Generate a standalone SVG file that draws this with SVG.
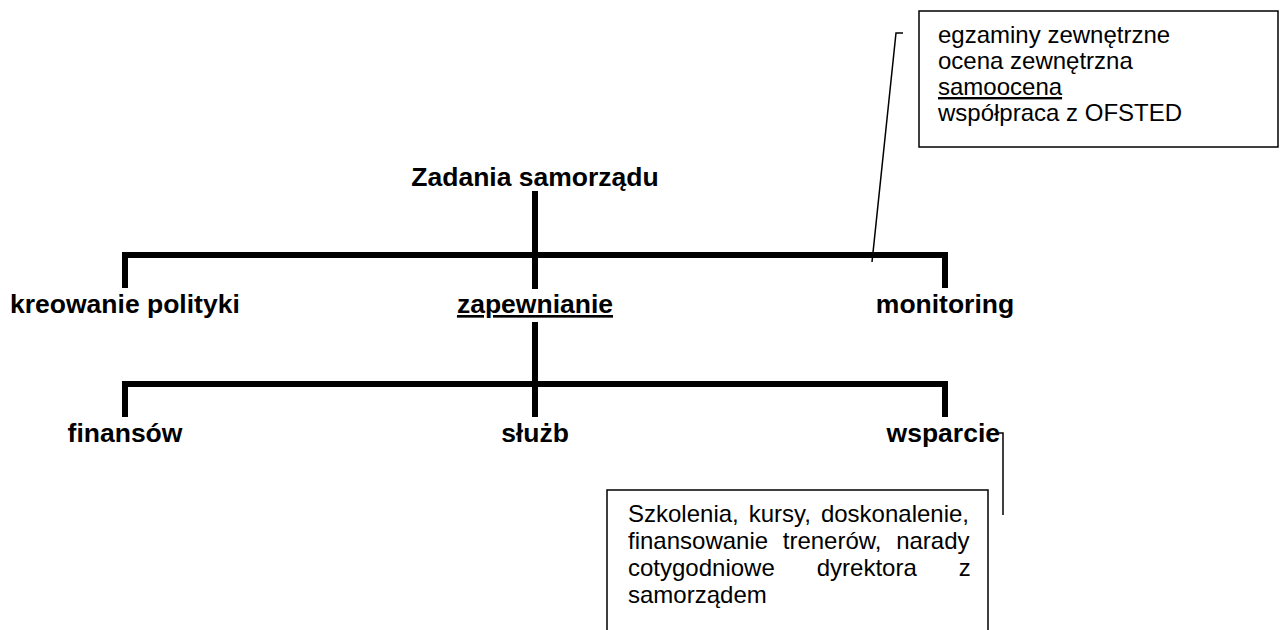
<svg xmlns="http://www.w3.org/2000/svg" width="1284" height="630" viewBox="0 0 1284 630">
<style>
.b{font-family:"Liberation Sans",Arial,sans-serif;font-weight:bold;font-size:26.5px;fill:#000}
.r{font-family:"Liberation Sans",Arial,sans-serif;font-size:24px;fill:#000}
.bar{stroke:#000;stroke-width:6;fill:none;stroke-linecap:square;stroke-linejoin:miter}
.thin{stroke:#000;stroke-width:1.5;fill:none}
.box{fill:#fff;stroke:#000;stroke-width:1.5}
</style>
<rect width="1284" height="630" fill="#fff"/>
<g id="connectors">
<path class="bar" d="M535,194 V286"/>
<path class="bar" d="M125,285 V255 H945 V285"/>
<path class="bar" d="M535,325 V414"/>
<path class="bar" d="M125,414 V384 H945 V414"/>
<path class="thin" d="M903,33 H896 L872,262"/>
<path class="thin" d="M998,433 H1003 V515"/>
</g>
<g id="root"><text class="b" x="535" y="186" text-anchor="middle">Zadania samorządu</text></g>
<g id="kreowanie"><text class="b" x="10" y="313">kreowanie polityki</text></g>
<g id="zapewnianie"><text class="b" x="535" y="313" text-anchor="middle" text-decoration="underline">zapewnianie</text></g>
<g id="monitoring"><text class="b" x="945" y="313" text-anchor="middle">monitoring</text></g>
<g id="finansow"><text class="b" x="125" y="442" text-anchor="middle">finansów</text></g>
<g id="sluzb"><text class="b" x="535" y="442" text-anchor="middle">służb</text></g>
<g id="wsparcie"><text class="b" x="1000" y="442" text-anchor="end">wsparcie</text></g>
<g id="monitoring-note">
<rect class="box" x="919" y="11" width="359" height="136"/>
<text class="r" x="938" y="43">egzaminy zewnętrzne</text>
<text class="r" x="938" y="69">ocena zewnętrzna</text>
<text class="r" x="938" y="95" text-decoration="underline">samoocena</text>
<text class="r" x="938" y="121">współpraca z OFSTED</text>
</g>
<g id="wsparcie-note">
<path class="box" d="M607,640 V490 H988 V640"/>
<text class="r" x="628" y="522" word-spacing="3.3">Szkolenia, kursy, doskonalenie,</text>
<text class="r" x="628" y="549" word-spacing="8">finansowanie trenerów, narady</text>
<text class="r" y="576"><tspan x="628">cotygodniowe</tspan><tspan x="816.7">dyrektora</tspan><tspan x="958.7">z</tspan></text>
<text class="r" x="628" y="603">samorządem</text>
</g>
</svg>
